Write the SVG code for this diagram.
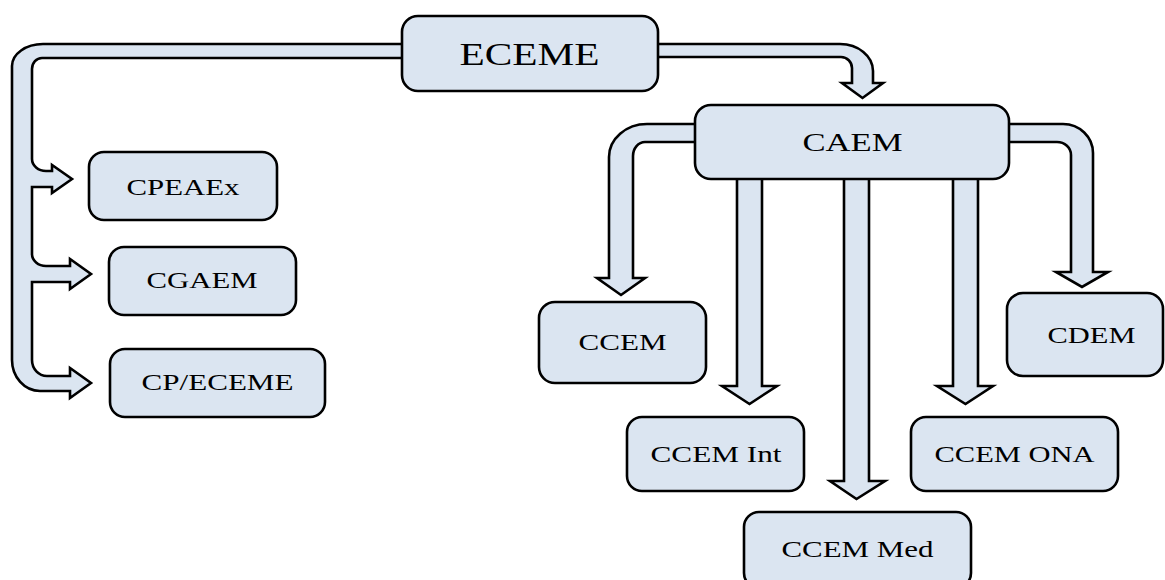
<svg xmlns="http://www.w3.org/2000/svg" width="1165" height="580" viewBox="0 0 1165 580">
<style>
.conn{fill:#dbe5f1;stroke:#000;stroke-width:2.6;stroke-linejoin:miter;stroke-miterlimit:10}
.box{fill:#dbe5f1;stroke:#000;stroke-width:2.6}
.lbl{font-family:"Liberation Serif","Times New Roman",serif;fill:#000;text-anchor:middle}
</style>
<rect width="1165" height="580" fill="#fff"/>
<g id="connectors">
<path class="conn" d="M650,44 L840,44 A33,27 0 0 1 873,71 L873,83 L883,83 L862.5,98 L842,83 L852,83 L852,68 A11,11 0 0 0 841,57 L650,57 Z"/>
<path class="conn" d="M410,44 L43,44 A31,22 0 0 0 12,66 L12,360 A28,31 0 0 0 40,391 L70,391 L70,398 L91,383 L70,368 L70,376 L47,376 A15,16 0 0 1 32,360 L32,282 L70,282 L70,289 L91,274 L70,259 L70,266 L46,266 A14,12 0 0 1 32,254 L32,187 L52,187 L52,193 L72,179 L52,165 L52,171 L46,171 A14,12 0 0 1 32,159 L32,69 A10,11 0 0 1 42,58 L410,58 Z"/>
<path class="conn" d="M700,124 L647,124 A38,33 0 0 0 609,157 L609,278 L597,278 L621,295 L645,278 L633,278 L633,156 A12,14 0 0 1 645,142 L700,142 Z"/>
<path class="conn" d="M1000,124 L1063,124 A30,29 0 0 1 1093,153 L1093,272 L1108,272 L1082,287 L1056,272 L1071,272 L1071,155 A14,13 0 0 0 1057,142 L1000,142 Z"/>
<path class="conn" d="M737,172 L737,386 L722,386 L749.5,404 L777,386 L762,386 L762,172 Z"/>
<path class="conn" d="M844,172 L844,481 L830,481 L856.5,499 L885,481 L869,481 L869,172 Z"/>
<path class="conn" d="M953,172 L953,386 L937,386 L965.5,404 L993,386 L978,386 L978,172 Z"/>
</g>
<g id="ECEME">
<rect class="box" x="402" y="16" width="256" height="75" rx="16"/>
<text class="lbl" x="529.5" y="65" font-size="31" textLength="140" lengthAdjust="spacingAndGlyphs">ECEME</text>
</g>
<g id="CAEM">
<rect class="box" x="695" y="105" width="314" height="74" rx="16"/>
<text class="lbl" x="852.5" y="151" font-size="25" textLength="100" lengthAdjust="spacingAndGlyphs">CAEM</text>
</g>
<g id="CPEAEx">
<rect class="box" x="89" y="152" width="188" height="68" rx="15"/>
<text class="lbl" x="183" y="195" font-size="24" textLength="113" lengthAdjust="spacingAndGlyphs">CPEAEx</text>
</g>
<g id="CGAEM">
<rect class="box" x="109" y="247" width="187" height="68" rx="15"/>
<text class="lbl" x="202" y="288" font-size="24" textLength="111" lengthAdjust="spacingAndGlyphs">CGAEM</text>
</g>
<g id="CP_ECEME">
<rect class="box" x="110" y="349" width="215" height="68" rx="15"/>
<text class="lbl" x="217.5" y="390" font-size="24" textLength="152" lengthAdjust="spacingAndGlyphs">CP/ECEME</text>
</g>
<g id="CCEM">
<rect class="box" x="539" y="302" width="167" height="81" rx="16"/>
<text class="lbl" x="622.5" y="350" font-size="24" textLength="88" lengthAdjust="spacingAndGlyphs">CCEM</text>
</g>
<g id="CCEM_Int">
<rect class="box" x="627" y="417" width="177" height="74" rx="15"/>
<text class="lbl" x="716" y="462" font-size="24" textLength="131" lengthAdjust="spacingAndGlyphs">CCEM Int</text>
</g>
<g id="CCEM_Med">
<rect class="box" x="744" y="512" width="227" height="76" rx="15"/>
<text class="lbl" x="857.5" y="557" font-size="24" textLength="152" lengthAdjust="spacingAndGlyphs">CCEM Med</text>
</g>
<g id="CCEM_ONA">
<rect class="box" x="911" y="417" width="207" height="74" rx="15"/>
<text class="lbl" x="1014.5" y="462" font-size="24" textLength="160" lengthAdjust="spacingAndGlyphs">CCEM ONA</text>
</g>
<g id="CDEM">
<rect class="box" x="1007" y="293" width="156" height="83" rx="16"/>
<text class="lbl" x="1091.5" y="343" font-size="24" textLength="88" lengthAdjust="spacingAndGlyphs">CDEM</text>
</g>
</svg>
